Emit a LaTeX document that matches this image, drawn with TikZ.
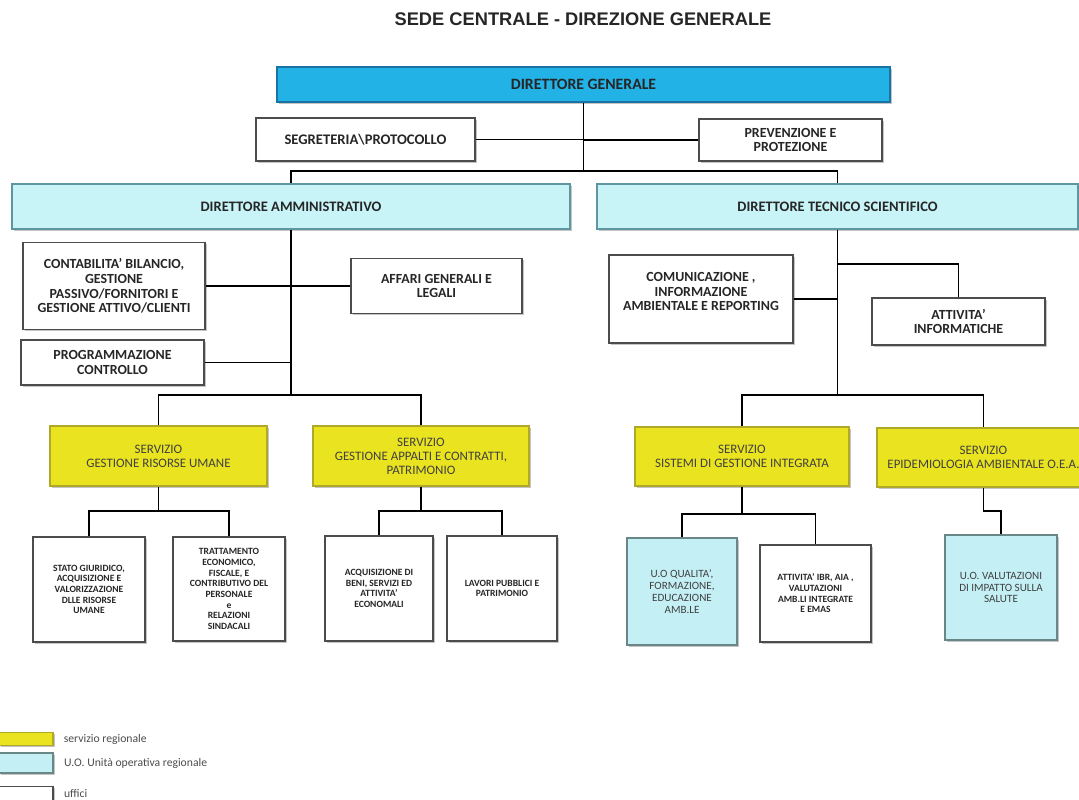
\documentclass[tikz,border=0pt]{standalone}
\usepackage{fontspec}
\setmainfont{Carlito}
\newfontfamily\titlefont{Liberation Sans}
\usepackage{tikz}
\usetikzlibrary{positioning}
\usetikzlibrary{shadows}

\newcommand{\pxu}{0.025cm}

\definecolor{dgblue}{RGB}{35,178,230}
\definecolor{dgborder}{RGB}{25,115,165}
\definecolor{dircyan}{RGB}{200,244,248}
\definecolor{dirborder}{RGB}{95,150,160}
\definecolor{servyellow}{RGB}{234,228,32}
\definecolor{servborder}{RGB}{175,168,40}
\definecolor{uocyan}{RGB}{196,240,245}
\definecolor{uoborder}{RGB}{105,135,135}

\tikzstyle{boxshadow}=[drop shadow={shadow xshift=1.3pt, shadow yshift=-1.3pt, opacity=.45}]
\tikzstyle{office}=[rectangle, draw=black!70, line width=1.1pt, fill=white, align=center, text=black!85, font=\bfseries\fontsize{9.9}{10.4}\selectfont, boxshadow]
\tikzstyle{smalloffice}=[office, font=\bfseries\fontsize{6.8}{7.6}\selectfont]
\tikzstyle{director}=[rectangle, draw=dirborder, line width=1.1pt, fill=dircyan, align=center, text=black!85, font=\bfseries\fontsize{10.3}{12}\selectfont, boxshadow]
\tikzstyle{dgbox}=[director, draw=dgborder, fill=dgblue, font=\bfseries\fontsize{11.2}{13}\selectfont]
\tikzstyle{servizio}=[rectangle, draw=servborder, line width=.8pt, fill=servyellow, align=center, text=black!75, font=\fontsize{9.2}{10}\selectfont, boxshadow]
\tikzstyle{unita}=[rectangle, draw=uoborder, line width=1.1pt, fill=uocyan, align=center, text=black!75, font=\fontsize{7.9}{8.4}\selectfont, boxshadow]
\tikzstyle{link}=[line width=1.4pt, black]
\tikzstyle{legendtext}=[font=\fontsize{8.3}{9}\selectfont, text=black!70, inner sep=0pt]

\begin{document}
\begin{tikzpicture}[x=\pxu, y=-\pxu, node distance=0.25cm]
	\useasboundingbox[fill=white] (0,0) rectangle (1079,800);
	\node (title) at (583,19) [font=\titlefont\bfseries\fontsize{13}{15}\selectfont, text=black!85] {SEDE CENTRALE - DIREZIONE GENERALE};

	\node (dg) at (583.5,84.5) [dgbox, minimum width=613*\pxu, minimum height=35*\pxu] {DIRETTORE GENERALE};
	\node (seg) at (365.5,139.5) [office, font=\bfseries\fontsize{10.4}{11.5}\selectfont, minimum width=219*\pxu, minimum height=43*\pxu] {SEGRETERIA\textbackslash PROTOCOLLO};
	\node (prev) at (790.5,140) [office, minimum width=183*\pxu, minimum height=42*\pxu] {PREVENZIONE E\\PROTEZIONE};

	\node (da) at (291,206.5) [director, minimum width=558*\pxu, minimum height=45*\pxu] {DIRETTORE AMMINISTRATIVO};
	\node (dts) at (837.5,206.5) [director, minimum width=481*\pxu, minimum height=45*\pxu] {DIRETTORE TECNICO SCIENTIFICO};

	\node (cont) at (114,286) [office, minimum width=182*\pxu, minimum height=87*\pxu] {CONTABILITA' BILANCIO,\\GESTIONE\\PASSIVO/FORNITORI E\\GESTIONE ATTIVO/CLIENTI};
	\node (aff) at (436.5,286) [office, minimum width=171*\pxu, minimum height=55*\pxu] {AFFARI GENERALI E\\LEGALI};
	\node (prog) at (112.5,362.5) [office, minimum width=183*\pxu, minimum height=45*\pxu] {PROGRAMMAZIONE\\CONTROLLO};
	\node (com) at (701,299) [office, minimum width=184*\pxu, minimum height=88*\pxu] {COMUNICAZIONE ,\\INFORMAZIONE\\AMBIENTALE E REPORTING\\\mbox{}};
	\node (att) at (958.5,321.5) [office, minimum width=173*\pxu, minimum height=47*\pxu] {ATTIVITA'\\INFORMATICHE};

	\node (gru) at (158.5,456) [servizio, minimum width=217*\pxu, minimum height=60*\pxu] {SERVIZIO\\GESTIONE RISORSE UMANE};
	\node (gacp) at (421,456) [servizio, minimum width=216*\pxu, minimum height=60*\pxu] {SERVIZIO\\GESTIONE APPALTI E CONTRATTI,\\PATRIMONIO};
	\node (ssgi) at (742,456.5) [servizio, minimum width=214*\pxu, minimum height=59*\pxu] {SERVIZIO\\SISTEMI DI GESTIONE INTEGRATA};
	\node (epi) at (983.5,457.5) [servizio, minimum width=213*\pxu, minimum height=59*\pxu] {SERVIZIO\\EPIDEMIOLOGIA AMBIENTALE O.E.A.};

	\node (stato) at (89,589.5) [smalloffice, minimum width=112*\pxu, minimum height=105*\pxu] {STATO GIURIDICO,\\ACQUISIZIONE E\\VALORIZZAZIONE\\DLLE RISORSE\\UMANE};
	\node (tratt) at (229,589) [smalloffice, minimum width=112*\pxu, minimum height=104*\pxu] {TRATTAMENTO\\ECONOMICO,\\FISCALE, E\\CONTRIBUTIVO DEL\\PERSONALE\\e\\RELAZIONI\\SINDACALI};
	\node (acq) at (379,588.5) [smalloffice, minimum width=108*\pxu, minimum height=105*\pxu] {ACQUISIZIONE DI\\BENI, SERVIZI ED\\ATTIVITA'\\ECONOMALI};
	\node (lav) at (502,588.5) [smalloffice, minimum width=110*\pxu, minimum height=105*\pxu] {LAVORI PUBBLICI E\\PATRIMONIO};
	\node (uoq) at (682,591.5) [unita, minimum width=110*\pxu, minimum height=107*\pxu] {U.O QUALITA',\\FORMAZIONE,\\EDUCAZIONE\\AMB.LE};
	\node (ibr) at (815.5,593.5) [smalloffice, minimum width=111*\pxu, minimum height=97*\pxu] {ATTIVITA' IBR, AIA ,\\VALUTAZIONI\\AMB.LI INTEGRATE\\E EMAS};
	\node (uov) at (1001,587.5) [unita, minimum width=112*\pxu, minimum height=105*\pxu] {U.O. VALUTAZIONI\\DI IMPATTO SULLA\\SALUTE};

	\coordinate (topj) at (583.5,171);
	\coordinate (daj) at (291,395);
	\coordinate (dtsj) at (837.5,395);
	\coordinate (attj) at (837.5,264);
	\coordinate (gruj) at (158.5,511);
	\coordinate (gacpj) at (421,511);
	\coordinate (ssgij) at (742,514);

	\path[link]
		(dg.south) edge (topj)
		(seg.east) edge (seg.east -| dg.south)
		(prev.west) edge (prev.west -| dg.south)
		(da.south) edge (daj)
		(cont.east) edge (cont.east -| da.south)
		(aff.west) edge (aff.west -| da.south)
		(prog.east) edge (prog.east -| da.south)
		(dts.south) edge (dtsj)
		(com.east) edge (com.east -| dts.south)
		(gru.south) edge (gruj)
		(gacp.south) edge (gacpj)
		(ssgi.south) edge (ssgij);
	\draw[link] (da.north) |- (topj) -| (dts.north);
	\draw[link] (gru.north) |- (daj) -| (gacp.north);
	\draw[link] (ssgi.north) |- (dtsj) -| (epi.north);
	\draw[link] (att.north) |- (attj);
	\draw[link] (stato.north) |- (gruj) -| (tratt.north);
	\draw[link] (acq.north) |- (gacpj) -| (lav.north);
	\draw[link] (uoq.north) |- (ssgij) -| (ibr.north);
	\draw[link] (epi.south) -- ++(0,23) -| (uov.north);

	\node (lgserv) at (26,739) [servizio, minimum width=54*\pxu, minimum height=13*\pxu, inner sep=0pt] {};
	\node (lguo) at (26,763) [unita, minimum width=54*\pxu, minimum height=20*\pxu, inner sep=0pt] {};
	\node (lguff) at (26,794) [office, minimum width=54*\pxu, minimum height=15*\pxu, inner sep=0pt] {};
	\node (lgservt) [legendtext, right=0.25cm of lgserv] {servizio regionale};
	\node (lguot) [legendtext, right=0.25cm of lguo] {U.O. Unità operativa regionale};
	\node (lgufft) [legendtext, right=0.25cm of lguff] {uffici};
\end{tikzpicture}
\end{document}
